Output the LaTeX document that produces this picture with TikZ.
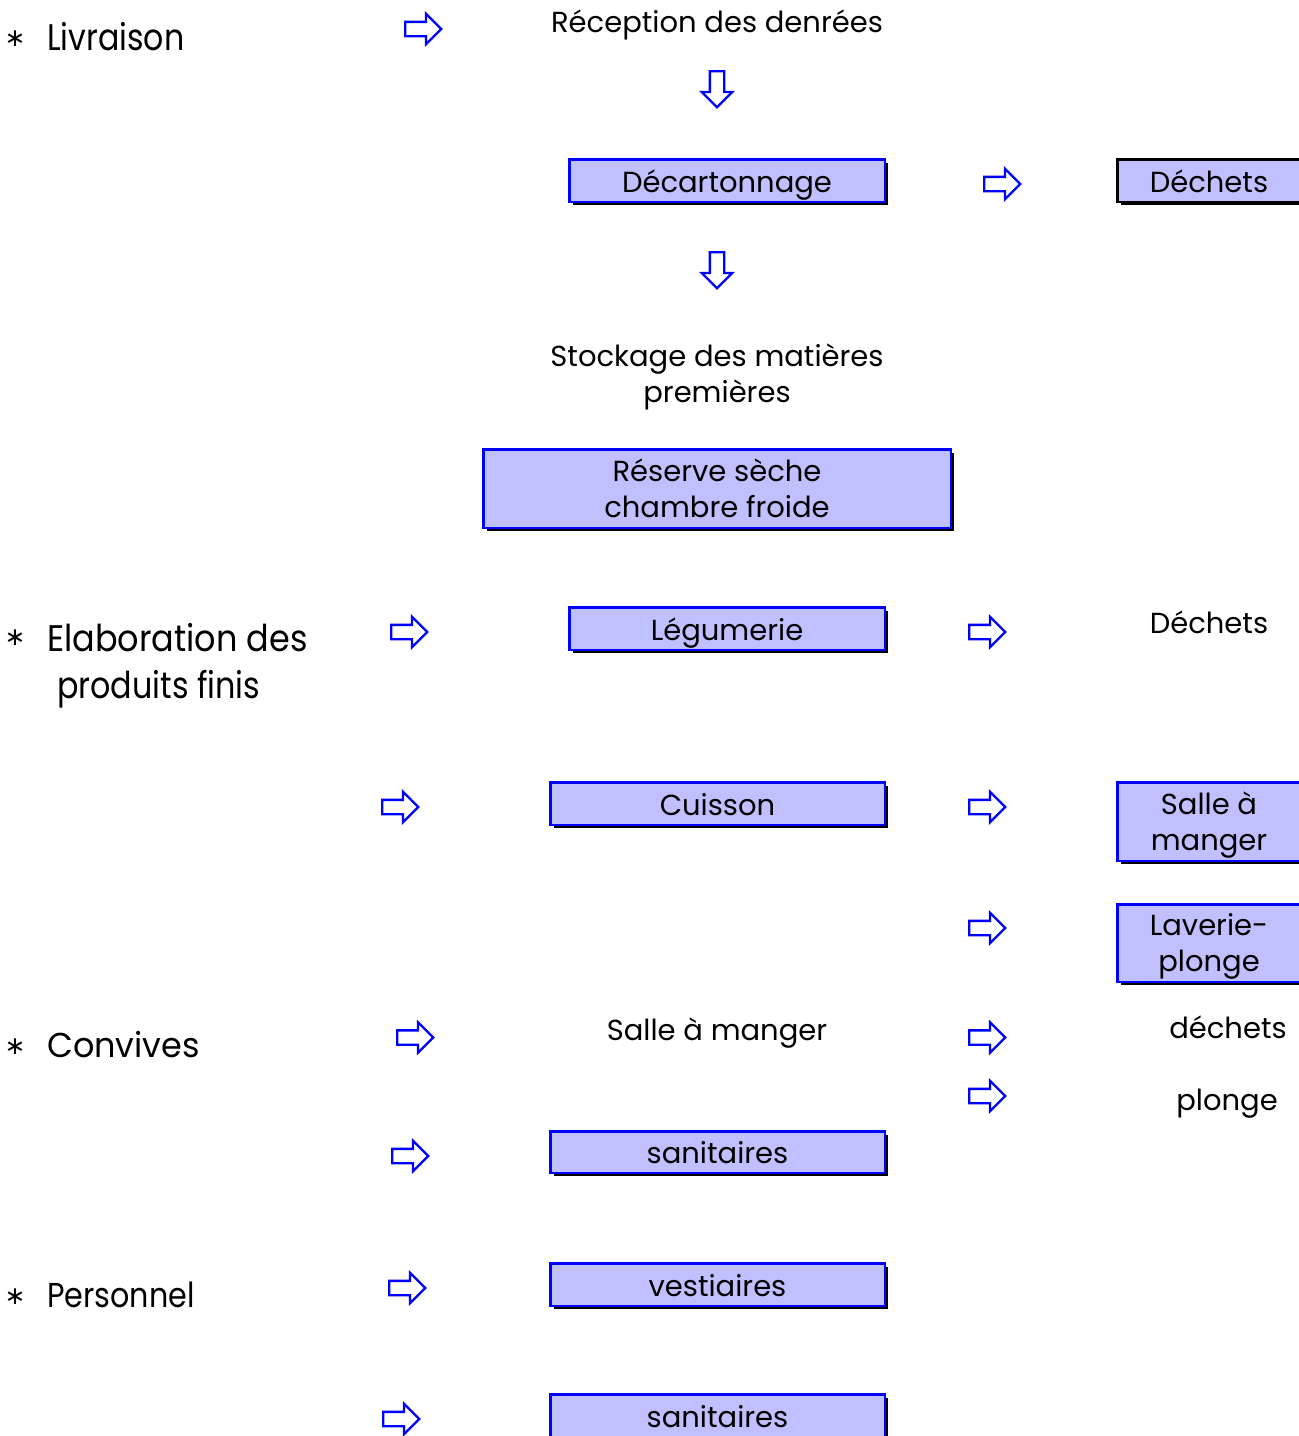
\documentclass[tikz,border=0pt]{standalone}
\usepackage{fontspec}
\setmainfont{Poppins}
\newfontfamily\starfont{DejaVu Sans}
\usetikzlibrary{shapes.arrows,shadows}
\definecolor{boxfill}{RGB}{192,192,255}
\definecolor{arrblue}{RGB}{0,0,255}
\begin{document}
\begin{tikzpicture}[x=1pt,y=-1pt,
  flowbox/.style={draw=arrblue, line width=2.5pt, fill=boxfill, inner sep=0pt,
    general shadow={fill=black, shadow xshift=3.5pt, shadow yshift=-3.5pt},
    font=\fontsize{29}{36}\selectfont, align=center},
  oneline/.style={text height=23pt, text depth=0pt},
  blackbox/.style={flowbox, draw=black},
  rarrow/.style={single arrow, draw=arrblue, line width=2.3pt, fill=white,
    minimum height=36pt, inner sep=6pt, single arrow head extend=8pt,
    single arrow tip angle=90, anchor=tail},
  darrow/.style={rarrow, shape border rotate=270},
  plaintext/.style={inner sep=0pt, font=\fontsize{29}{36}\selectfont, anchor=base},
  biglabel/.style={inner sep=0pt, font=\fontsize{37}{47}\selectfont, anchor=base west},
  midlabel/.style={inner sep=0pt, font=\fontsize{34.5}{44}\selectfont, anchor=base west},
  star/.style={inner sep=0pt, font=\starfont\fontsize{25}{25}\selectfont}
]
\useasboundingbox (0,0) rectangle (1299,1436);

% left labels
\node[star] (s1) at (15,39) {∗};
\node[biglabel] (livraison) at (47,50) {\scalebox{0.855}[1]{Livraison}};
\node[star] (s2) at (15,638) {∗};
\node[biglabel] (elab1) at (47,651) {\scalebox{0.905}[1]{Elaboration des}};
\node[biglabel] (elab2) at (57,698) {\scalebox{0.86}[1]{produits finis}};
\node[star] (s3) at (15,1047) {∗};
\node[midlabel] (convives) at (47,1057) {\scalebox{0.97}[1]{Convives}};
\node[star] (s4) at (15,1297) {∗};
\node[midlabel] (personnel) at (47,1307) {\scalebox{0.875}[1]{Personnel}};

% central column
\node[plaintext] (reception) at (717,32) {Réception des denrées};
\node[flowbox, oneline, minimum width=315.5pt, minimum height=42.5pt] (decart) at (727,180.5) {Décartonnage};
\node[blackbox, oneline, minimum width=183.5pt, minimum height=42.5pt] (dechets1) at (1209,180.5) {Déchets};
\node[plaintext, anchor=center, align=center] (stockage) at (717,374) {\rule{0pt}{28pt}Stockage des matières\\premières};
\node[flowbox, minimum width=467.5pt, minimum height=78.5pt] (reserve) at (717,488.5) {Réserve sèche\\chambre froide};
\node[flowbox, oneline, minimum width=315.5pt, minimum height=42.5pt] (legumerie) at (727,628.5) {Légumerie};
\node[plaintext] (dechets2) at (1209,633) {Déchets};
\node[flowbox, oneline, minimum width=334.5pt, minimum height=42.5pt] (cuisson) at (717.5,803.5) {Cuisson};
\node[flowbox, minimum width=183.5pt, minimum height=78.5pt] (salleb) at (1209,821.5) {\rule{0pt}{29pt}Salle à\\manger};
\node[flowbox, minimum width=183.5pt, minimum height=77.5pt] (laverie) at (1209,943) {\rule{0pt}{29pt}Laverie-\\plonge};
\node[plaintext] (salle) at (717,1040) {Salle à manger};
\node[plaintext] (dechets3) at (1228,1038) {déchets};
\node[plaintext] (plonge) at (1227,1110) {plonge};
\node[flowbox, oneline, minimum width=334.5pt, minimum height=41.5pt] (sanit1) at (717.5,1152) {sanitaires};
\node[flowbox, oneline, minimum width=334.5pt, minimum height=42.5pt] (vest) at (717.5,1284.5) {vestiaires};
\node[flowbox, oneline, minimum width=334.5pt, minimum height=42.5pt] (sanit2) at (717.5,1415.5) {sanitaires};

% block arrows
\node[rarrow] (a1) at (404,29) {};
\node[darrow] (d1) at (717,70) {};
\node[rarrow] (a2) at (983,184) {};
\node[darrow] (d2) at (717,251) {};
\node[rarrow] (a3) at (390,632) {};
\node[rarrow] (a4) at (968,632) {};
\node[rarrow] (a5) at (381,807) {};
\node[rarrow] (a6) at (968,807) {};
\node[rarrow] (a7) at (968,928) {};
\node[rarrow] (a8) at (396,1037.5) {};
\node[rarrow] (a9) at (968,1037.5) {};
\node[rarrow] (a10) at (968,1096) {};
\node[rarrow] (a11) at (391,1156) {};
\node[rarrow] (a12) at (388,1288) {};
\node[rarrow] (a13) at (382,1419) {};
\end{tikzpicture}
\end{document}
